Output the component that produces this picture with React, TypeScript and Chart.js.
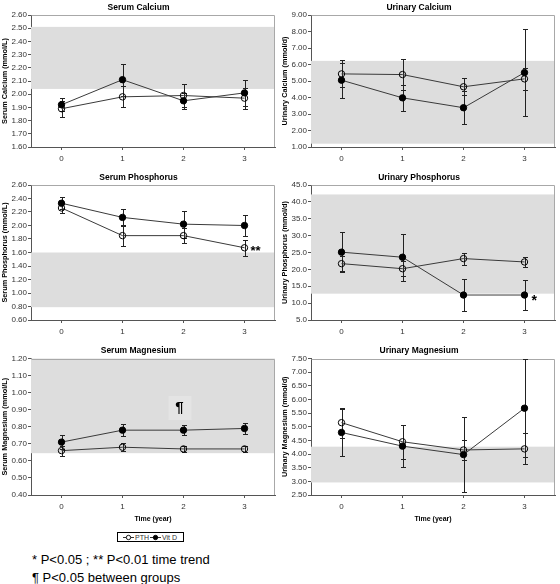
import React, { useEffect, useRef } from 'react';
import { Chart, registerables } from 'chart.js';

Chart.register(...registerables);

const FONT = 'Arial, "Liberation Sans", Helvetica, sans-serif';

// ---------- Data ----------
const years = ['0', '1', '2', '3'];
const seriesNames = ['PTH', 'Vit D'];

// Serum Calcium (mmol/L)
const serumCaPTH = [1.89, 1.98, 1.99, 1.97];
const serumCaPTHErr = [0.06, 0.08, 0.09, 0.08];
const serumCaVitD = [1.92, 2.11, 1.95, 2.01];
const serumCaVitDErr = [0.05, 0.12, 0.06, 0.1];
const serumCaRange = [2.04, 2.51];

// Urinary Calcium (mmol/d)
const urineCaPTH = [5.43, 5.39, 4.65, 5.13];
const urineCaPTHErr = [0.82, 0.95, 0.52, 0.67];
const urineCaVitD = [5.05, 3.98, 3.38, 5.51];
const urineCaVitDErr = [1.07, 0.8, 1.0, 2.65];
const urineCaRange = [1.2, 6.22];

// Serum Phosphorus (mmol/L)
const serumPPTH = [2.26, 1.85, 1.85, 1.67];
const serumPPTHErr = [0.07, 0.16, 0.11, 0.12];
const serumPVitD = [2.33, 2.12, 2.02, 2.0];
const serumPVitDErr = [0.09, 0.12, 0.2, 0.16];
const serumPRange = [0.79, 1.6];

// Urinary Phosphorus (mmol/d)
const urinePPTH = [21.7, 20.2, 23.2, 22.2];
const urinePPTHErr = [2.2, 2.3, 1.8, 1.5];
const urinePVitD = [25.1, 23.6, 12.4, 12.4];
const urinePVitDErr = [5.9, 6.9, 4.8, 4.4];
const urinePRange = [12.8, 42.2];

// Serum Magnesium (mmol/L)
const serumMgPTH = [0.66, 0.68, 0.67, 0.67];
const serumMgPTHErr = [0.03, 0.025, 0.02, 0.02];
const serumMgVitD = [0.71, 0.78, 0.78, 0.79];
const serumMgVitDErr = [0.04, 0.035, 0.03, 0.03];
const serumMgRange = [0.645, 1.2];

// Urinary Magnesium (mmol/d)
const urineMgPTH = [5.15, 4.45, 4.15, 4.19];
const urineMgPTHErr = [0.55, 0.63, 0.37, 0.57];
const urineMgVitD = [4.79, 4.29, 3.98, 5.68];
const urineMgVitDErr = [0.85, 0.77, 1.37, 1.8];
const urineMgRange = [2.96, 4.27];

const footnote1 = '* P<0.05 ; ** P<0.01 time trend';
const footnote2 = '\u00B6 P<0.05 between groups';
const xAxisTitle = 'Time (year)';

type Annot = { i: number; v: number; text: string; size: number; dx: number; dy: number; box?: boolean };

type PanelCfg = {
  title: string;
  yTitle: string;
  min: number;
  max: number;
  step: number;
  decimals: number;
  pth: number[];
  pthErr: number[];
  vitd: number[];
  vitdErr: number[];
  range: number[];
  annots: Annot[];
  showXTitle: boolean;
};

const panels: (PanelCfg & { left: number; top: number; width: number; height: number; titlePadTop: number; xHeight: number; padRight: number })[] = [
  {
    title: 'Serum Calcium', yTitle: 'Serum Calcium (mmol/L)', min: 1.6, max: 2.6, step: 0.1, decimals: 2,
    pth: serumCaPTH, pthErr: serumCaPTHErr, vitd: serumCaVitD, vitdErr: serumCaVitDErr, range: serumCaRange,
    annots: [], showXTitle: false,
    left: 0, top: 0, width: 280, height: 170, titlePadTop: 2.5, xHeight: 23, padRight: 3,
  },
  {
    title: 'Urinary Calcium', yTitle: 'Urinary Calcium (mmol/d)', min: 1, max: 9, step: 1, decimals: 2,
    pth: urineCaPTH, pthErr: urineCaPTHErr, vitd: urineCaVitD, vitdErr: urineCaVitDErr, range: urineCaRange,
    annots: [], showXTitle: false,
    left: 280, top: 0, width: 280, height: 170, titlePadTop: 2.5, xHeight: 23, padRight: 2,
  },
  {
    title: 'Serum Phosphorus', yTitle: 'Serum Phosphorus (mmol/L)', min: 0.6, max: 2.6, step: 0.2, decimals: 2,
    pth: serumPPTH, pthErr: serumPPTHErr, vitd: serumPVitD, vitdErr: serumPVitDErr, range: serumPRange,
    annots: [{ i: 3, v: 1.67, text: '**', size: 13, dx: 6, dy: 7.5 }], showXTitle: false,
    left: 0, top: 170, width: 280, height: 165, titlePadTop: 2.5, xHeight: 15, padRight: 3,
  },
  {
    title: 'Urinary Phosphorus', yTitle: 'Urinary Phosphorus (mmol/d)', min: 5, max: 45, step: 5, decimals: 1,
    pth: urinePPTH, pthErr: urinePPTHErr, vitd: urinePVitD, vitdErr: urinePVitDErr, range: urinePRange,
    annots: [{ i: 3, v: 12.4, text: '*', size: 14, dx: 7, dy: 10 }], showXTitle: false,
    left: 280, top: 170, width: 280, height: 165, titlePadTop: 2.5, xHeight: 15, padRight: 2,
  },
  {
    title: 'Serum Magnesium', yTitle: 'Serum Magnesium (mmol/L)', min: 0.4, max: 1.2, step: 0.1, decimals: 2,
    pth: serumMgPTH, pthErr: serumMgPTHErr, vitd: serumMgVitD, vitdErr: serumMgVitDErr, range: serumMgRange,
    annots: [{ i: 2, v: 0.91, text: '\u00B6', size: 15, dx: -4, dy: 0, box: true }], showXTitle: true,
    left: 0, top: 335, width: 280, height: 190, titlePadTop: 11, xHeight: 30, padRight: 3,
  },
  {
    title: 'Urinary Magnesium', yTitle: 'Urinary Magnesium (mmol/d)', min: 2.5, max: 7.5, step: 0.5, decimals: 2,
    pth: urineMgPTH, pthErr: urineMgPTHErr, vitd: urineMgVitD, vitdErr: urineMgVitDErr, range: urineMgRange,
    annots: [], showXTitle: true,
    left: 280, top: 335, width: 280, height: 190, titlePadTop: 11, xHeight: 30, padRight: 2,
  },
];

// ---------- Plugins ----------
const bandPlugin = {
  id: 'band',
  beforeDatasetsDraw(chart: any, _args: any, opts: any) {
    const { ctx, chartArea } = chart;
    const y = chart.scales.y;
    const [lo, hi] = opts.range;
    const yTop = y.getPixelForValue(Math.min(hi, y.max));
    const yBot = y.getPixelForValue(Math.max(lo, y.min));
    ctx.save();
    ctx.fillStyle = '#dddddd';
    ctx.fillRect(chartArea.left, yTop, chartArea.right - chartArea.left, yBot - yTop);
    // light plot-area frame (top and right)
    ctx.strokeStyle = '#a8a8a8';
    ctx.lineWidth = 1;
    const l = Math.round(chartArea.left) + 0.5;
    const r = Math.round(chartArea.right) - 0.5;
    const t = Math.round(chartArea.top) + 0.5;
    const b = Math.round(chartArea.bottom);
    ctx.beginPath();
    ctx.moveTo(l, t);
    ctx.lineTo(r, t);
    ctx.lineTo(r, b);
    ctx.stroke();
    ctx.restore();
  },
};

const errorBarPlugin = {
  id: 'errbars',
  beforeDatasetsDraw(chart: any, _args: any, opts: any) {
    const { ctx } = chart;
    const xs = chart.scales.x;
    const ys = chart.scales.y;
    ctx.save();
    ctx.strokeStyle = '#222';
    ctx.lineWidth = 1;
    (opts.errors as number[][]).forEach((errs, di) => {
      const vals = chart.data.datasets[di].data as number[];
      vals.forEach((v, i) => {
        const x = Math.round(xs.getPixelForValue(i)) + 0.5;
        const yT = Math.round(ys.getPixelForValue(v + errs[i])) + 0.5;
        const yB = Math.round(ys.getPixelForValue(v - errs[i])) + 0.5;
        ctx.beginPath();
        ctx.moveTo(x, yT);
        ctx.lineTo(x, yB);
        ctx.moveTo(x - 2.5, yT);
        ctx.lineTo(x + 2.5, yT);
        ctx.moveTo(x - 2.5, yB);
        ctx.lineTo(x + 2.5, yB);
        ctx.stroke();
      });
    });
    ctx.restore();
  },
};

const annotPlugin = {
  id: 'annots',
  afterDraw(chart: any, _args: any, opts: any) {
    const { ctx } = chart;
    const xs = chart.scales.x;
    const ys = chart.scales.y;
    ctx.save();
    (opts.items as Annot[]).forEach((a) => {
      const x = xs.getPixelForValue(a.i) + a.dx;
      const y = ys.getPixelForValue(a.v) + a.dy;
      if (a.box) {
        ctx.fillStyle = '#e4e4e4';
        ctx.fillRect(x - 11, y - 12, 23, 24);
        ctx.fillStyle = '#000';
        ctx.font = `bold ${a.size}px ${FONT}`;
        ctx.textAlign = 'center';
        ctx.textBaseline = 'middle';
        ctx.fillText(a.text, x, y);
      } else {
        ctx.fillStyle = '#000';
        ctx.font = `bold ${a.size}px ${FONT}`;
        ctx.textAlign = 'left';
        ctx.textBaseline = 'alphabetic';
        ctx.fillText(a.text, x, y);
      }
    });
    ctx.restore();
  },
};

// ---------- Components ----------
function Panel({ cfg }: { cfg: (typeof panels)[number] }) {
  const ref = useRef<HTMLCanvasElement | null>(null);
  useEffect(() => {
    if (!ref.current) return;
    const lineColor = '#3a3a3a';
    const chart = new Chart(ref.current, {
      type: 'line',
      data: {
        labels: years,
        datasets: [
          {
            label: seriesNames[0],
            data: cfg.pth,
            borderColor: lineColor,
            borderWidth: 1,
            pointStyle: 'circle',
            pointRadius: 3.2,
            pointBorderWidth: 1,
            pointBorderColor: '#000',
            pointBackgroundColor: 'rgba(0,0,0,0)',
            tension: 0,
          },
          {
            label: seriesNames[1],
            data: cfg.vitd,
            borderColor: lineColor,
            borderWidth: 1,
            pointStyle: 'circle',
            pointRadius: 3.2,
            pointBorderWidth: 1,
            pointBorderColor: '#000',
            pointBackgroundColor: '#000',
            tension: 0,
          },
        ],
      },
      options: {
        animation: false,
        responsive: false,
        maintainAspectRatio: false,
        layout: { padding: { left: 0, right: cfg.padRight, top: 0, bottom: 0 } },
        plugins: {
          legend: { display: false },
          tooltip: { enabled: false },
          title: {
            display: true,
            text: cfg.title,
            color: '#000',
            font: { family: FONT, size: 8.5, weight: 'bold' },
            padding: { top: cfg.titlePadTop, bottom: 2.3 },
          },
          band: { range: cfg.range },
          errbars: { errors: [cfg.pthErr, cfg.vitdErr] },
          annots: { items: cfg.annots },
        } as any,
        scales: {
          x: {
            type: 'category',
            offset: true,
            grid: {
              display: true,
              drawOnChartArea: false,
              drawTicks: true,
              tickLength: 3,
              offset: false,
              color: '#555',
            },
            border: { display: true, color: '#555', width: 1 },
            ticks: {
              color: '#333',
              font: { family: FONT, size: 8 },
              padding: 4,
              maxRotation: 0,
            },
            title: {
              display: cfg.showXTitle,
              text: xAxisTitle,
              color: '#000',
              font: { family: FONT, size: 7, weight: 'bold' },
              padding: { top: 0, bottom: 2 },
            },
            afterFit: (s: any) => {
              s.height = cfg.xHeight;
            },
          },
          y: {
            type: 'linear',
            min: cfg.min,
            max: cfg.max,
            grid: {
              display: true,
              drawOnChartArea: false,
              drawTicks: true,
              tickLength: 3,
              color: '#555',
            },
            border: { display: true, color: '#555', width: 1 },
            ticks: {
              stepSize: cfg.step,
              color: '#333',
              font: { family: FONT, size: 8 },
              padding: 1,
              callback: (v: any) => Number(v).toFixed(cfg.decimals),
            },
            title: {
              display: true,
              text: cfg.yTitle,
              color: '#000',
              font: { family: FONT, size: 7.3, weight: 'bold' },
              padding: { top: 1, bottom: 0 },
            },
            afterFit: (s: any) => {
              s.width = 31;
            },
          },
        },
      },
      plugins: [bandPlugin, errorBarPlugin, annotPlugin],
    } as any);
    return () => chart.destroy();
  }, [cfg]);
  return (
    <canvas
      ref={ref}
      width={cfg.width}
      height={cfg.height}
      style={{ position: 'absolute', left: cfg.left, top: cfg.top, width: cfg.width, height: cfg.height }}
    />
  );
}

function LegendMarker({ filled, left }: { filled: boolean; left: number }) {
  return (
    <svg width={11} height={7} style={{ position: 'absolute', left, top: 1 }}>
      <line x1={0} y1={3.5} x2={11} y2={3.5} stroke="#333" strokeWidth={1} />
      <circle cx={5.5} cy={3.5} r={2.2} fill={filled ? '#000' : '#fff'} stroke="#000" strokeWidth={0.9} />
    </svg>
  );
}

export default function App() {
  const legendText: React.CSSProperties = {
    position: 'absolute',
    top: 0,
    fontSize: 7,
    lineHeight: '9px',
    color: '#333',
    whiteSpace: 'nowrap',
  };
  return (
    <div style={{ position: 'absolute', left: 0, top: 0, width: 560, height: 584, background: '#fff', fontFamily: FONT }}>
      {panels.map((p, i) => (
        <Panel key={i} cfg={p} />
      ))}
      <div
        style={{
          position: 'absolute',
          left: 117,
          top: 532,
          width: 67,
          height: 10,
          boxSizing: 'border-box',
          border: '1px solid #000',
          background: '#fff',
        }}
      >
        <LegendMarker filled={false} left={5} />
        <span style={{ ...legendText, left: 17 }}>{seriesNames[0]}</span>
        <LegendMarker filled={true} left={32} />
        <span style={{ ...legendText, left: 44 }}>{seriesNames[1]}</span>
      </div>
      <div style={{ position: 'absolute', left: 32, top: 551, fontSize: 13, lineHeight: '18px', color: '#000', whiteSpace: 'nowrap' }}>
        <div>{footnote1}</div>
        <div>{footnote2}</div>
      </div>
    </div>
  );
}
